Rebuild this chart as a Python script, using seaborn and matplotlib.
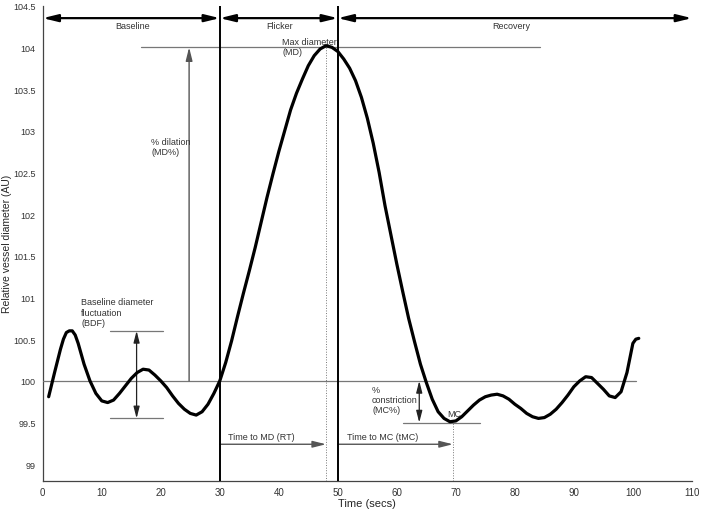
import matplotlib
matplotlib.use("Agg")
import matplotlib.pyplot as plt
import seaborn as sns
import pandas as pd

# ---- data ----
time_s = [1, 2, 3, 3.5, 4, 4.5, 5, 5.5, 6, 7, 8, 9, 10, 11, 12, 13, 14, 15, 16, 17,
          18, 19, 20, 21, 22, 23, 24, 25, 26, 27, 28, 29, 30, 31, 32, 33, 34, 35,
          36, 37, 38, 39, 40, 41, 42, 43, 44, 45, 46, 47, 48, 49, 50, 51, 52, 53,
          54, 55, 56, 57, 58, 59, 60, 61, 62, 63, 64, 65, 66, 67, 68, 69, 70,
          71, 72, 73, 74, 75, 76, 77, 78, 79, 80, 81, 82, 83, 84, 85, 86, 87, 88,
          89, 90, 91, 92, 93, 94, 95, 96, 97, 98, 99, 100, 100.5, 101]
diameter = [99.81, 100.1, 100.38, 100.5, 100.58, 100.6, 100.6, 100.55, 100.45, 100.2,
            100.0, 99.85, 99.76, 99.74, 99.77, 99.85, 99.94, 100.03, 100.10, 100.14,
            100.13, 100.07, 100.0, 99.92, 99.82, 99.73, 99.66, 99.61, 99.59, 99.63,
            99.72, 99.85, 100.0, 100.22, 100.48, 100.77, 101.05, 101.32,
            101.6, 101.9, 102.2, 102.48, 102.75, 103.0, 103.25, 103.45, 103.62, 103.78,
            103.9, 103.98, 104.02, 104.0, 103.95, 103.86, 103.75, 103.6,
            103.4, 103.15, 102.85, 102.5, 102.1, 101.75, 101.4, 101.07, 100.75, 100.47,
            100.2, 99.98, 99.78, 99.63, 99.55, 99.51, 99.52,
            99.57, 99.64, 99.71, 99.77, 99.81, 99.83, 99.84, 99.82, 99.78, 99.72,
            99.67, 99.61, 99.57, 99.55, 99.56, 99.6, 99.66, 99.74,
            99.83, 99.93, 100.0, 100.05, 100.04, 99.97, 99.9, 99.82,
            99.8, 99.87, 100.1, 100.45, 100.5, 100.51]

phase_names = ["Baseline", "Flicker", "Recovery"]
phase_bounds = [0, 30, 50, 110]
phase_label_x = [15.3, 40.2, 79.4]

baseline_level = 100
max_diam = 104.0
max_time = 48
min_constr = 99.5
min_time = 69.5
bdf_hi, bdf_lo = 100.6, 99.55

xticks = [0, 10, 20, 30, 40, 50, 60, 70, 80, 90, 100, 110]
yticks = [99, 99.5, 100, 100.5, 101, 101.5, 102, 102.5, 103, 103.5, 104, 104.5]
ytick_labels = ["99", "99.5", "100", "100.5", "101", "101.5", "102", "102.5",
                "103", "103.5", "104", "104.5"]

# ---- figure ----
sns.set_style("white")
plt.rcParams["font.family"] = ["Liberation Sans", "DejaVu Sans"]

fig = plt.figure(figsize=(7.01, 5.10), dpi=100)
ax = fig.add_axes([0.061, 0.055, 0.926, 0.932])

df = pd.DataFrame({"t": time_s, "d": diameter})
sns.lineplot(data=df, x="t", y="d", ax=ax, color="black", linewidth=2.3,
             sort=False, zorder=5, solid_joinstyle="round", solid_capstyle="round")

ax.set_xlim(0, 110)
ax.set_ylim(98.8, 104.5)
ax.set_xticks(xticks)
ax.set_yticks(yticks)
ax.set_yticklabels(ytick_labels)
ax.tick_params(direction="in", length=4, width=0.8, labelsize=7, colors="#333333",
               pad=4)
ax.tick_params(axis="y", labelsize=6.5, pad=5)
for s in ["top", "right"]:
    ax.spines[s].set_visible(False)
for s in ["left", "bottom"]:
    ax.spines[s].set_color("#444444")
    ax.spines[s].set_linewidth(0.9)
ax.set_xlabel("Time (secs)", fontsize=8, labelpad=1)
ax.set_ylabel("Relative vessel diameter (AU)", fontsize=7.5)
ax.yaxis.set_label_coords(-0.047, 0.5)

gray = "#777777"
tfs = 6.5

# phase boundaries
for b in phase_bounds[1:3]:
    ax.axvline(b, color="black", linewidth=1.4, zorder=4)

# phase arrows
arrow_y = 104.35
for i, name in enumerate(phase_names):
    ax.annotate("", xy=(phase_bounds[i + 1], arrow_y), xytext=(phase_bounds[i], arrow_y),
                arrowprops=dict(arrowstyle="<|-|>,head_length=0.9,head_width=0.22",
                                color="black", lw=1.6, shrinkA=0, shrinkB=0))
    ax.text(phase_label_x[i], arrow_y - 0.03, name, ha="center", va="top",
            fontsize=tfs, color="#333333")

# baseline reference line
ax.plot([0, 100.6], [baseline_level, baseline_level], color=gray, lw=0.9, zorder=3)
# max diameter reference line
ax.plot([16.7, 84.3], [max_diam, max_diam], color=gray, lw=0.9, zorder=3)
ax.text(40.6, 104.12, "Max diameter\n(MD)", ha="left", va="top", fontsize=tfs,
        color="#333333", linespacing=1.1)
ax.plot([max_time, max_time], [98.8, max_diam], color=gray, lw=0.7, ls=":", zorder=3)

# % dilation arrow
ax.annotate("", xy=(24.8, max_diam), xytext=(24.8, baseline_level),
            arrowprops=dict(arrowstyle="-|>,head_length=0.8,head_width=0.2",
                            color="#555555", lw=1.0, shrinkA=0, shrinkB=0))
ax.text(18.4, 102.93, "% dilation\n(MD%)", ha="left", va="top", fontsize=tfs,
        color="#333333", linespacing=1.15)

# BDF
ax.plot([11.4, 20.4], [bdf_hi, bdf_hi], color=gray, lw=0.9)
ax.plot([11.4, 20.4], [bdf_lo, bdf_lo], color=gray, lw=0.9)
ax.annotate("", xy=(15.9, bdf_hi), xytext=(15.9, bdf_lo),
            arrowprops=dict(arrowstyle="<|-|>,head_length=0.7,head_width=0.18",
                            color="#222222", lw=0.9, shrinkA=0, shrinkB=0))
ax.text(6.5, 101.0, "Baseline diameter\nfluctuation\n(BDF)", ha="left", va="top",
        fontsize=tfs, color="#333333", linespacing=1.15)

# time to MD
rt_y = 99.24
ax.annotate("", xy=(max_time, rt_y), xytext=(30, rt_y),
            arrowprops=dict(arrowstyle="-|>,head_length=0.8,head_width=0.2",
                            color="#555555", lw=1.0, shrinkA=0, shrinkB=0))
ax.text(31.4, rt_y + 0.04, "Time to MD (RT)", ha="left", va="bottom", fontsize=tfs,
        color="#333333")

# time to MC
ax.annotate("", xy=(min_time, rt_y), xytext=(50, rt_y),
            arrowprops=dict(arrowstyle="-|>,head_length=0.8,head_width=0.2",
                            color="#555555", lw=1.0, shrinkA=0, shrinkB=0))
ax.text(51.6, rt_y + 0.04, "Time to MC (tMC)", ha="left", va="bottom", fontsize=tfs,
        color="#333333")
ax.plot([min_time, min_time], [98.8, min_constr], color=gray, lw=0.7, ls=":", zorder=3)

# MC
ax.plot([61.1, 74.1], [min_constr, min_constr], color=gray, lw=0.9)
ax.text(68.5, min_constr + 0.06, "MC", ha="left", va="bottom", fontsize=tfs,
        color="#333333")
ax.annotate("", xy=(63.8, baseline_level), xytext=(63.8, min_constr),
            arrowprops=dict(arrowstyle="<|-|>,head_length=0.7,head_width=0.18",
                            color="#222222", lw=0.9, shrinkA=0, shrinkB=0))
ax.text(55.8, 99.95, "%\nconstriction\n(MC%)", ha="left", va="top", fontsize=tfs,
        color="#333333", linespacing=1.15)

fig.savefig("out.png", dpi=100)
